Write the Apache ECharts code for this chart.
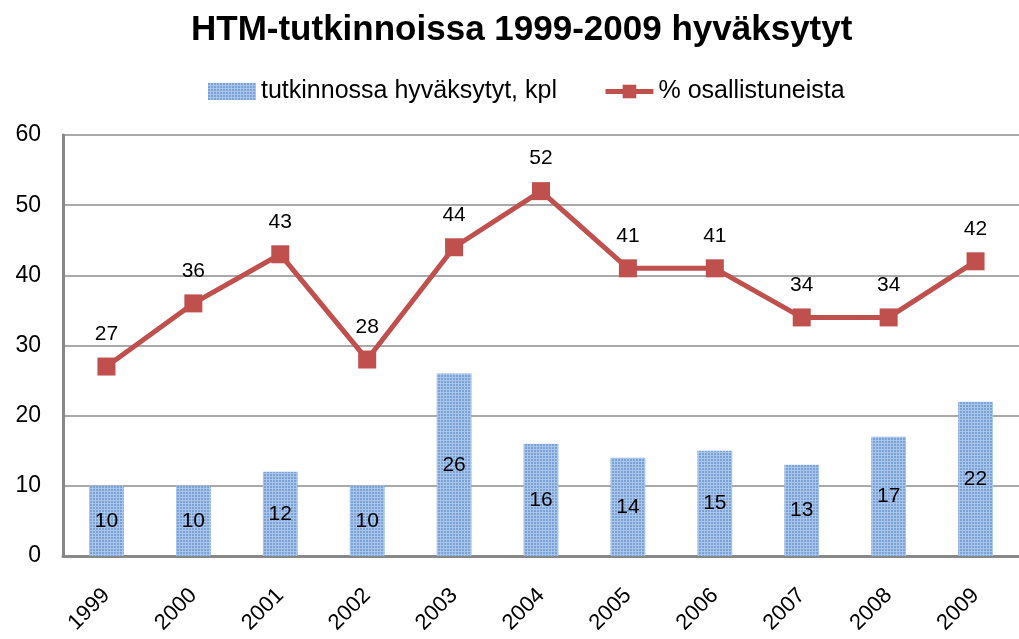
<!DOCTYPE html>
<html><head><meta charset="utf-8">
<script src="https://cdn.jsdelivr.net/npm/echarts@6/dist/echarts.min.js"></script>
<style>html,body{margin:0;padding:0;background:#fff}#c{width:1019px;height:639px}</style>
</head><body><div id="c"></div>
<script>
const years = ['1999','2000','2001','2002','2003','2004','2005','2006','2007','2008','2009'];
const approved = [10,10,12,10,26,16,14,15,13,17,22];
const percent = [27,36,43,28,44,52,41,41,34,34,42];
const barName = 'tutkinnossa hyväksytyt, kpl';
const lineName = '% osallistuneista';
const titleText = 'HTM-tutkinnoissa 1999-2009 hyväksytyt';

// dotted blue texture
const pc = document.createElement('canvas');
pc.width = 3; pc.height = 3;
const px = pc.getContext('2d');
px.fillStyle = '#a9c5ea'; px.fillRect(0,0,3,3);
px.fillStyle = '#7aa2d6'; px.fillRect(0,0,2,2);
const barColor = {image: pc, repeat: 'repeat'};

const font = 'Liberation Sans, Arial, sans-serif';
const chart = echarts.init(document.getElementById('c'));
chart.setOption({
  animation: false,
  title: {text: titleText, left: 186, top: 8,
    textStyle: {fontFamily: font, fontSize: 35, fontWeight: 'bold', color: '#000'}},
  legend: {top: 74, left: 203, itemGap: 46, itemWidth: 48, itemHeight: 17,
    textStyle: {fontFamily: font, fontSize: 25, color: '#000'},
    lineStyle: {width: 5, color: '#c0504d'},
    data: [{name: barName, icon: 'rect'}, {name: lineName}]},
  grid: {left: 63, right: -5, top: 135, bottom: 83, containLabel: false},
  xAxis: {type: 'category', data: years,
    axisLine: {lineStyle: {color: '#888', width: 3}},
    axisTick: {show: false},
    axisLabel: {rotate: 45, margin: 36, fontFamily: font, fontSize: 22, color: '#000'}},
  yAxis: {type: 'value', min: 0, max: 60, interval: 10,
    axisLine: {show: true, lineStyle: {color: '#888', width: 3}},
    axisTick: {show: false},
    splitLine: {lineStyle: {color: '#8c8c8c', width: 1.5}},
    axisLabel: {margin: 22, fontFamily: font, fontSize: 23, color: '#000'}},
  series: [
    {name: barName, type: 'bar', data: approved, barWidth: '40%',
      itemStyle: {color: barColor},
      label: {show: true, position: 'inside', fontFamily: font, fontSize: 21, color: '#000'}},
    {name: lineName, type: 'line', data: percent, symbol: 'rect', symbolSize: 18,
      lineStyle: {color: '#c0504d', width: 5}, itemStyle: {color: '#c0504d'},
      label: {show: true, position: 'top', distance: 13, fontFamily: font, fontSize: 21, color: '#000'}}
  ]
});
</script></body></html>
